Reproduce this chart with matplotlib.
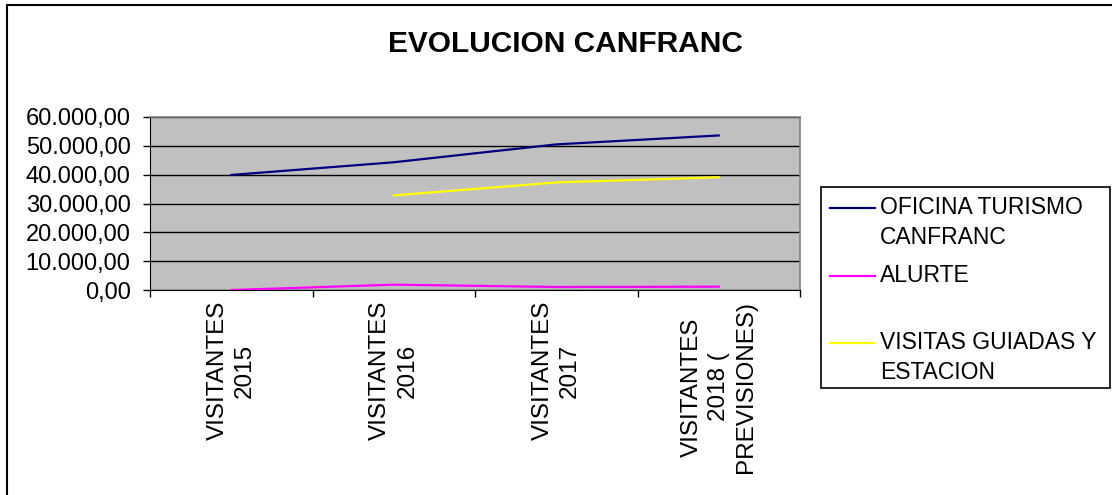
import numpy as np
import matplotlib.pyplot as plt
from matplotlib.lines import Line2D
from matplotlib.patches import Rectangle
from matplotlib.ticker import FuncFormatter

plt.rcParams["font.family"] = ["Liberation Sans", "DejaVu Sans"]

# datos
categorias = ["VISITANTES\n2015", "VISITANTES\n2016", "VISITANTES\n2017",
              "VISITANTES\n2018 (\nPREVISIONES)"]
oficina = [39900, 44300, 50500, 53600]
alurte = [0, 1850, 1050, 1150]
visitas = [np.nan, 32800, 37300, 39100]

series = [("OFICINA TURISMO\nCANFRANC", oficina, "#000080"),
          ("ALURTE", alurte, "#FF00FF"),
          ("VISITAS GUIADAS Y\nESTACION", visitas, "#FFFF00")]

W, H = 1112, 495
fig = plt.figure(figsize=(W / 100, H / 100), dpi=100)
fig.patch.set_facecolor("white")

# marco de la figura (solo izquierda y arriba visibles)
fig.add_artist(Rectangle((7 / W, -0.1), 1.2, 1.1 - 5 / H,
                         transform=fig.transFigure, fill=False,
                         edgecolor="#000000", lw=1.5, clip_on=False))

ax = fig.add_axes([150 / W, (H - 290) / H, 650 / W, 173 / H])
ax.set_facecolor("#C0C0C0")

x = np.arange(len(categorias))
for nombre, vals, color in series:
    ax.plot(x, vals, color=color, lw=1.6, zorder=3)

ax.set_xlim(-0.5, len(categorias) - 0.5)
ax.set_ylim(0, 60000)
ax.set_yticks(np.arange(0, 60001, 10000))


def fmt(v, pos):
    s = f"{v:,.2f}"
    return s.replace(",", "X").replace(".", ",").replace("X", ".")


ax.yaxis.set_major_formatter(FuncFormatter(fmt))
ax.yaxis.grid(True, color="black", lw=1.0, zorder=1)
ax.set_axisbelow(True)

ax.set_xticks(x)
ax.set_xticklabels(categorias, rotation=90, ha="center", va="top",
                   multialignment="center", linespacing=1.3)
ax.set_xticks(np.arange(-0.5, len(categorias), 1), minor=True)
ax.tick_params(axis="x", which="major", length=0, pad=8, labelsize=17.5)
ax.tick_params(axis="x", which="minor", length=5, width=1, color="black")
ax.tick_params(axis="y", length=5, width=1, pad=9, labelsize=17)

for s in ["top", "right"]:
    ax.spines[s].set_color("#808080")
    ax.spines[s].set_linewidth(1.2)
ax.spines["left"].set_color("black")
ax.spines["bottom"].set_color("black")
ax.spines["bottom"].set_zorder(4)

fig.text(565 / W, 1 - 44 / H, "EVOLUCION CANFRANC", ha="center", va="center",
         fontsize=21.5, fontweight="bold")

# leyenda
fig.add_artist(Rectangle((821 / W, 1 - 388 / H), 289 / W, 201 / H,
                         transform=fig.transFigure, fill=False,
                         edgecolor="black", lw=1.2))
ys = [208, 276, 343]
for (nombre, vals, color), yy in zip(series, ys):
    fy = 1 - yy / H
    fig.add_artist(Line2D([830 / W, 875 / W], [fy, fy], color=color, lw=1.6,
                          transform=fig.transFigure))
    fig.text(880 / W, 1 - (yy - 12) / H, nombre, ha="left", va="top",
             fontsize=16.5, linespacing=1.4)

fig.savefig("out.png", dpi=100)
